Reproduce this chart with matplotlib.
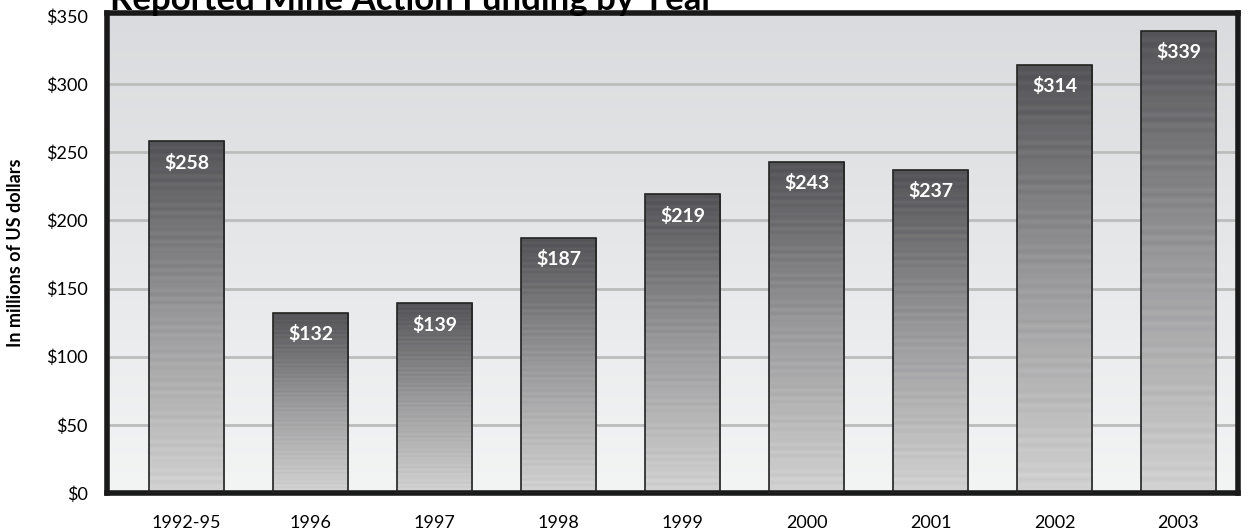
import numpy as np
import matplotlib.pyplot as plt
from matplotlib.colors import LinearSegmentedColormap

# Reported mine action funding by year (millions USD)
years = ['1992-95', '1996', '1997', '1998', '1999', '2000', '2001', '2002', '2003']
funding = [258, 132, 139, 187, 219, 243, 237, 314, 339]
yticks = [0, 50, 100, 150, 200, 250, 300, 350]

plt.rcParams['font.family'] = ['Lato', 'DejaVu Sans']

fig = plt.figure(figsize=(12.48, 5.30), dpi=100)
ax = fig.add_axes([0.086, 0.07, 0.906, 0.905])

x = np.arange(len(years))
ax.set_xlim(-0.64, len(years) - 0.52)
ax.set_ylim(0, 352)

# background gradient, darker at top
bg = np.linspace(0, 1, 256).reshape(-1, 1)
bg_cmap = LinearSegmentedColormap.from_list('bg', ['#f3f4f4', '#dadbde'])
ax.imshow(bg, cmap=bg_cmap, aspect='auto', origin='lower',
          extent=[-0.64, len(years) - 0.52, 0, 352], zorder=0)

for y in yticks[1:-1]:
    ax.axhline(y, color='#bcbcbc', lw=2, zorder=1)

bar_cmap = LinearSegmentedColormap.from_list('bar', ['#d2d2d2', '#9a9a9c', '#545458'])
bars = ax.bar(x, funding, width=0.61, color='none', edgecolor='#222222', lw=1.2, zorder=3)
for b, v in zip(bars, funding):
    t = np.linspace(0, 1, 300)
    stripes = 0.04 * np.sin(t * 300 * 0.9) * np.sin(t * 37)
    g = np.clip(t + stripes, 0, 1).reshape(-1, 1)
    im = ax.imshow(g, cmap=bar_cmap, aspect='auto', origin='lower',
                   extent=[b.get_x(), b.get_x() + b.get_width(), 0, v],
                   zorder=2, vmin=0, vmax=1)
    im.set_clip_path(b)
    ax.text(b.get_x() + b.get_width() / 2, v - 9, f'${v}', ha='center', va='top',
            color='white', fontsize=14, fontweight='bold', zorder=4)

ax.set_xticks(x)
ax.set_xticklabels(years, fontsize=13)
ax.set_yticks(yticks)
ax.set_yticklabels([f'${v}' for v in yticks], fontsize=13)
ax.tick_params(length=0)
ax.tick_params(axis='x', pad=16)
ax.tick_params(axis='y', pad=14)
for s in ax.spines.values():
    s.set_linewidth(4)
    s.set_color('#1a1a1a')
ax.set_ylabel('In millions of US dollars', fontsize=13, fontweight='bold', labelpad=16)

fig.text(0.088, 1.0, 'Reported Mine Action Funding by Year', fontsize=25,
         fontweight='bold', va='center', ha='left')

fig.savefig('out.png', dpi=100)
